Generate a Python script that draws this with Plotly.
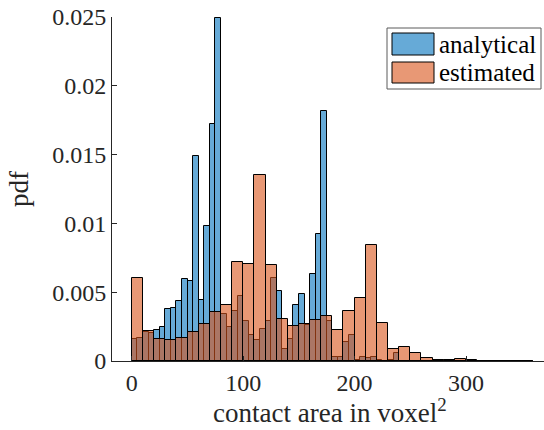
import plotly.graph_objects as go

# ---- data ----
analytical_width = 5
analytical_start = 0
analytical_pdf = [
    0.00157, 0.0017, 0.0021, 0.0020, 0.00227, 0.00244, 0.0038, 0.00387,
    0.00438, 0.00597, 0.00578, 0.0149, 0.00445, 0.0098, 0.0172, 0.0249,
    0.00343, 0.00246, 0.00362, 0.00469, 0.0029, 0.00186, 0.00155, 0.00235,
    0.0029, 0.00604, 0.00512, 0.0009, 0.00162, 0.00409, 0.00487, 0.0026,
    0.00633, 0.0092, 0.0182, 0.0029, 0.0003, 0.0003, 0.0014, 0.0019,
    0.0001, 0.00027, 0.00024, 0.0003, 0.0001, 0.00003, 0.0001, 0.00055,
    0.00003, 0.00002, 0.00002, 0.00002, 0.00002, 0.00002, 0.00002, 0.00002,
    0.00002, 0.00002, 0.00002, 0.00002, 0.00002, 0.00002, 0.00002, 0.00002,
    0.00002, 0.00002, 0.00002, 0.00002, 0.00002, 0.00002, 0.00002, 0.00002,
]
estimated_width = 10
estimated_start = 0
estimated_pdf = [
    0.00601, 0.0022, 0.00162, 0.00152, 0.0017, 0.00213, 0.00266, 0.00355,
    0.00409, 0.00717, 0.00706, 0.0135, 0.00698, 0.00302, 0.00251, 0.00266,
    0.003, 0.00324, 0.00227, 0.00367, 0.00459, 0.00843, 0.00278, 0.00088,
    0.00101, 0.00061, 0.00024, 0.00008, 0.0001, 0.00017, 0.0001, 0.00003,
    0.00002, 0.00002, 0.00002, 0.00002,
]
series_names = ["analytical", "estimated"]
x_ticks = [0, 100, 200, 300]
y_ticks = [0, 0.005, 0.01, 0.015, 0.02, 0.025]
y_ticklabels = ["0", "0.005", "0.01", "0.015", "0.02", "0.025"]
x_label = "contact area in voxel<sup>2</sup>"
y_label = "pdf"

# ---- styling ----
FONT = "Liberation Serif"
TXT = "#262626"
blue_face = "rgba(0,114,189,0.6)"
orange_face = "rgba(217,83,25,0.6)"

W, H = 544, 430
L, R, T, B = 112, 0, 17, 69
PW, PH = W - L - R, H - T - B


def px(xp):
    return (xp - L) / PW


def py(yp):
    return (H - B - yp) / PH


def centers(start, width, n):
    return [start + width * (i + 0.5) for i in range(n)]


fig = go.Figure()
fig.add_trace(go.Bar(
    x=centers(analytical_start, analytical_width, len(analytical_pdf)),
    y=analytical_pdf, width=analytical_width, name=series_names[0],
    marker=dict(color=blue_face, line=dict(color="black", width=1)),
))
fig.add_trace(go.Bar(
    x=centers(estimated_start, estimated_width, len(estimated_pdf)),
    y=estimated_pdf, width=estimated_width, name=series_names[1],
    marker=dict(color=orange_face, line=dict(color="black", width=1)),
))

shapes = [
    dict(type="rect", xref="paper", yref="paper", x0=px(387), x1=px(541),
         y0=py(89), y1=py(28), line=dict(color="#5a5a5a", width=1),
         fillcolor="white", layer="above"),
    dict(type="rect", xref="paper", yref="paper", x0=px(392), x1=px(434),
         y0=py(55), y1=py(33), line=dict(color="black", width=1),
         fillcolor=blue_face, layer="above"),
    dict(type="rect", xref="paper", yref="paper", x0=px(392), x1=px(434),
         y0=py(83), y1=py(62), line=dict(color="black", width=1),
         fillcolor=orange_face, layer="above"),
]
annotations = [
    dict(text=series_names[0], xref="paper", yref="paper", x=px(437), y=py(44),
         xanchor="left", yanchor="middle", showarrow=False,
         font=dict(family=FONT, size=25, color="black")),
    dict(text=series_names[1], xref="paper", yref="paper", x=px(437), y=py(72.5),
         xanchor="left", yanchor="middle", showarrow=False,
         font=dict(family=FONT, size=25, color="black")),
    dict(text=x_label, xref="paper", yref="paper", x=px(330), y=py(430),
         xanchor="center", yanchor="bottom", showarrow=False,
         font=dict(family=FONT, size=27, color=TXT)),
    dict(text=y_label, xref="paper", yref="paper", x=px(19), y=py(189),
         xanchor="center", yanchor="middle", showarrow=False, textangle=-90,
         font=dict(family=FONT, size=27, color=TXT)),
]

fig.update_layout(
    width=W, height=H, margin=dict(l=L, r=R, t=T, b=B, autoexpand=False),
    barmode="overlay", bargap=0, showlegend=False,
    plot_bgcolor="white", paper_bgcolor="white",
    shapes=shapes, annotations=annotations,
    font=dict(family=FONT, size=24, color=TXT),
)
fig.update_xaxes(
    range=[-17.8, 370], tickvals=x_ticks, ticks="inside", ticklen=5,
    tickcolor=TXT, showline=True, linecolor=TXT, linewidth=1,
    showgrid=False, zeroline=False, tickfont=dict(family=FONT, size=24, color=TXT),
)
fig.update_yaxes(
    range=[0, 0.025], tickvals=y_ticks, ticktext=y_ticklabels, ticks="inside",
    ticklen=5, tickcolor=TXT, showline=True, linecolor=TXT, linewidth=1,
    showgrid=False, zeroline=False, tickfont=dict(family=FONT, size=24, color=TXT),
)

fig.write_html("out.html")
